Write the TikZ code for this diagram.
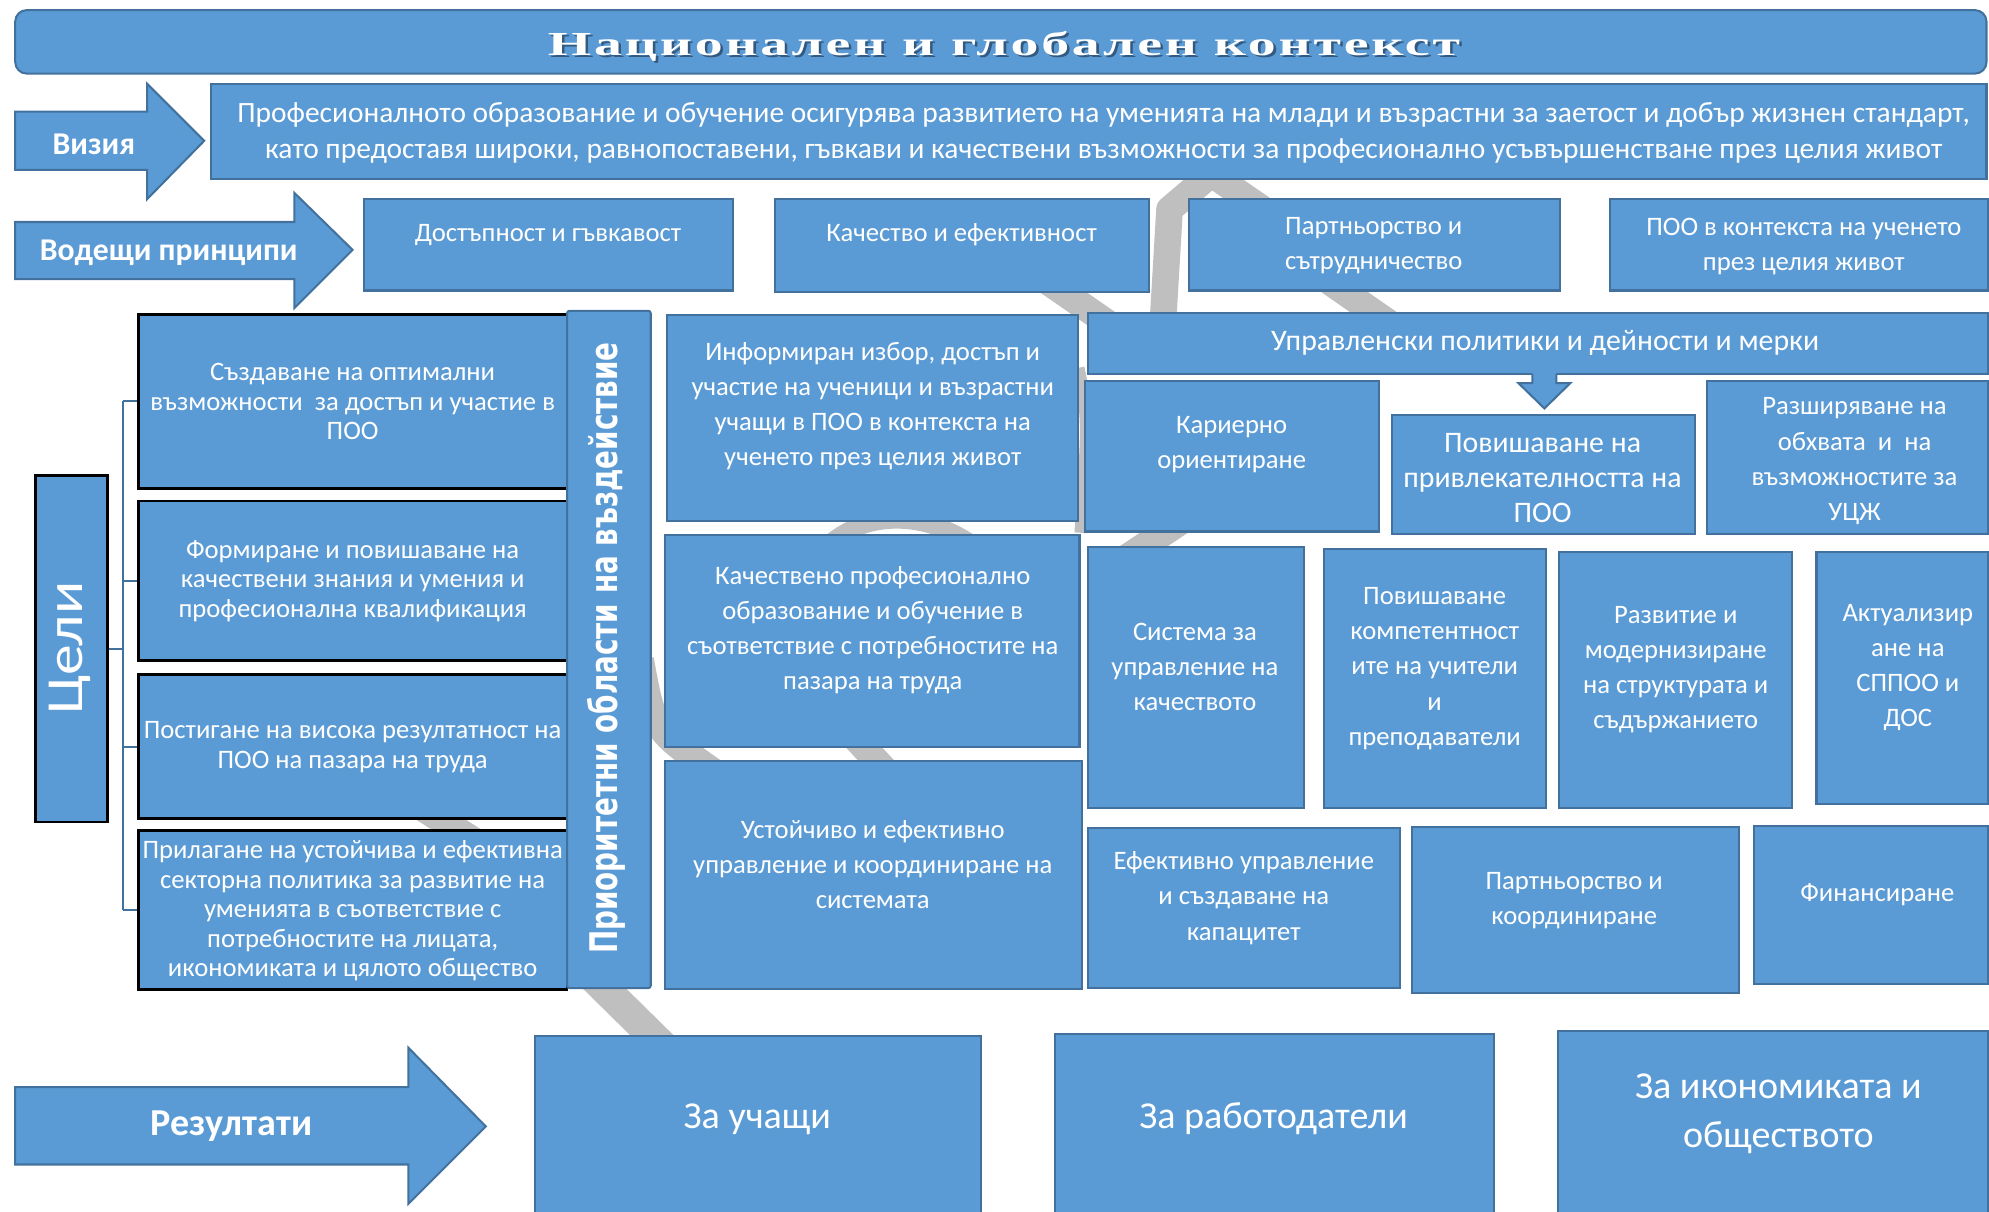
\documentclass[tikz,border=0pt]{standalone}
\usepackage{fontspec}
\usepackage{graphicx}
\setmainfont{Carlito}
\newfontfamily\titlefont{Liberation Serif}[LetterSpace=5]
\newfontfamily\vertfont{DejaVu Sans}
\usetikzlibrary{fit}
\definecolor{bfill}{HTML}{5B9BD5}
\definecolor{bline}{HTML}{41719C}
\definecolor{swirl}{HTML}{BFBFBF}
\definecolor{tshadow}{HTML}{34597F}
\tikzset{
  box/.style={draw=bline, fill=bfill, line width=1.6pt, inner sep=0pt},
  gbox/.style={draw=black, fill=bfill, line width=2.2pt, inner sep=0pt},
  txt/.style={text=white, align=center, inner sep=0pt},
  coil/.style={draw=swirl, line width=21pt, line cap=butt, line join=round},
  brk/.style={draw=bline, line width=1.6pt},
  arrowshape/.style={draw=bline, fill=bfill, line width=1.6pt, line join=miter},
  fA/.style={font=\fontsize{21}{27.5}\selectfont},
  fV/.style={font=\fontsize{23.2}{28.5}\selectfont},
  fG/.style={font=\fontsize{21}{23.3}\selectfont},
  fR/.style={font=\fontsize{21}{27.7}\selectfont},
  fRL/.style={font=\fontsize{23.5}{27.7}\selectfont},
  fB/.style={font=\fontsize{30}{38}\selectfont},
  fH/.style={font=\bfseries\fontsize{25}{25}\selectfont},
}
\begin{document}
\begin{tikzpicture}[x=1pt,y=-1pt]
\useasboundingbox (0,0) rectangle (1568,955);
\clip (0,0) rectangle (1568,955);
% ---------- grey coil (background decoration) ----------
\draw[coil] (917,250) -- (922,165) -- (955,137) -- (1000,168);
\draw[coil] (826,222) -- (878,258);
\draw[coil] (1048,222) -- (1100,258);
\draw[coil, line width=14pt] (640,445) .. controls (670,398) and (740,398) .. (785,445);
\draw[coil] (880,445) -- (940,405);
\draw[coil] (505,520) .. controls (515,575) .. (565,610);
\draw[coil] (668,575) -- (705,615);
\draw[coil] (330,635) -- (382,668);
\draw[coil, line width=24pt] (462,765) -- (528,830);
\draw[coil, line width=10pt] (850,290) .. controls (858,330) .. (852,420);
% ---------- title banner ----------
\node[box, rounded corners=9pt, fit={(12,8)(1566,58)}] (banner) {};
\node[anchor=base, inner sep=0pt, text=tshadow] (titleshadow) at (793.5,45.5)
  {\resizebox{719pt}{\height}{\titlefont\bfseries\fontsize{26.5}{26.5}\selectfont Национален и глобален контекст}};
\node[anchor=base, inner sep=0pt, text=white] (title) at (791.5,43.5)
  {\resizebox{719pt}{\height}{\titlefont\bfseries\fontsize{26.5}{26.5}\selectfont Национален и глобален контекст}};
% ---------- vision ----------
\draw[arrowshape] (12,88) -- (116,88) -- (116,66) -- (161,111) -- (116,157) -- (116,134) -- (12,134) -- cycle;
\node[txt, fH] (visia) at (74,114) {Визия};
\node[box, fit={(166,66)(1566,141)}] (vision) {};
\node[txt, fV] (visiont) at (870,105) {Професионалното образование и обучение осигурява развитието на уменията на млади и възрастни за заетост и добър жизнен стандарт,\\като предоставя широки, равнопоставени, гъвкави и качествени възможности за професионално усъвършенстване през целия живот};
% ---------- guiding principles ----------
\draw[arrowshape] (12,175) -- (232,175) -- (232,152) -- (278,197) -- (232,243) -- (232,220) -- (12,220) -- cycle;
\node[txt, fH] (vodeshti) at (133,199) {Водещи принципи};
\node[box, fit={(287,157)(578,229)}] (pr1) {};
\node[txt, fA] (pr1t) at (432,185) {Достъпност и гъвкавост};
\node[box, fit={(611,157)(906,230)}] (pr2) {};
\node[txt, fA] (pr2t) at (758,185) {Качество и ефективност};
\node[box, fit={(937,157)(1230,229)}] (pr3) {};
\node[txt, fA] (pr3t) at (1083,193.5) {Партньорство и\\сътрудничество};
\node[box, fit={(1269,157)(1567,229)}] (pr4) {};
\node[txt, fA] (pr4t) at (1422,194.5) {ПОО в контекста на ученето\\през целия живот};
% ---------- goals ----------
\node[gbox, fit={(28,375)(85,648)}] (celi) {};
\node[txt, rotate=90, anchor=base] (celit) at (65,511)
  {\resizebox{105pt}{\height}{\fontsize{41}{41}\selectfont Цели}};
\node[gbox, fit={(109,248)(447,385)}] (g1) {};
\node[txt, fG] (g1t) at (278,316.5) {Създаване на оптимални\\възможности\ \ за достъп и участие в\\ПОО};
\node[gbox, fit={(109,395)(447,521)}] (g2) {};
\node[txt, fG] (g2t) at (278,458) {Формиране и повишаване на\\качествени знания и умения и\\професионална квалификация};
\node[gbox, fit={(109,532)(447,645)}] (g3) {};
\node[txt, fG] (g3t) at (278,589) {Постигане на висока резултатност на\\ПОО на пазара на труда};
\node[gbox, fit={(109,655)(447,780)}] (g4) {};
\node[txt, fG] (g4t) at (278,718) {Прилагане на устойчива и ефективна\\секторна политика за развитие на\\уменията в съответствие с\\потребностите на лицата,\\икономиката и цялото общество};
\coordinate (bt) at (97,316.5);
\coordinate (bb) at (97,717.5);
\draw[brk] (bt) -- (bb);
\draw[brk] (celi.east) -- (celi.east -| bt);
\foreach \g in {g1,g2,g3,g4} \draw[brk] (\g.west -| bt) -- (\g.west);
% ---------- priority areas ----------
\node[box, rounded corners=2pt, fit={(447,245)(513,779)}] (prio) {};
\node[txt, rotate=90, anchor=base] (priot) at (487,511)
  {\resizebox{482pt}{\height}{\vertfont\bfseries\fontsize{30}{30}\selectfont Приоритетни области на въздействие}};
\node[box, fit={(526,248)(850,411)}] (a1) {};
\node[txt, fA] (a1t) at (688,320) {Информиран избор, достъп и\\участие на ученици и възрастни\\учащи в ПОО в контекста на\\ученето през целия живот};
\node[box, fit={(524,422)(851,589)}] (a2) {};
\node[txt, fA] (a2t) at (688,497) {Качествено професионално\\образование и обучение в\\съответствие с потребностите на\\пазара на труда};
\node[box, fit={(524,600)(853,780)}] (a3) {};
\node[txt, fA] (a3t) at (688,681.5) {Устойчиво и ефективно\\управление и координиране на\\системата};
% ---------- policies ----------
\node[box, fit={(858,247)(1567,295)}] (bar) {};
\node[txt, fRL] (bart) at (1218,270) {Управленски политики и дейности и мерки};
\fill[bfill] (1208,293) -- (1208,302) -- (1197,302) -- (1217.5,322) -- (1238,302) -- (1227,302) -- (1227,293) -- cycle;
\draw[bline, line width=1.6pt, line join=miter] (1208,295) -- (1208,302) -- (1197,302) -- (1217.5,322) -- (1238,302) -- (1227,302) -- (1227,295);
\node[box, fit={(855,300)(1087,419)}] (r1a) {};
\node[txt, fR] (r1at) at (971,350.5) {Кариерно\\ориентиране};
\node[box, fit={(1097,327)(1336,421)}] (r1b) {};
\node[txt, fRL] (r1bt) at (1216,377) {Повишаване на\\привлекателността на\\ПОО};
\node[box, fit={(1346,300)(1567,421)}] (r1c) {};
\node[txt, fR] (r1ct) at (1462,363.5) {Разширяване на\\обхвата\ \ и\ \ на\\възможностите за\\УЦЖ};
\node[box, fit={(858,431)(1028,637)}] (r2a) {};
\node[txt, fR] (r2at) at (942,525.5) {Система за\\управление на\\качеството};
\node[box, fit={(1044,433)(1219,637)}] (r2b) {};
\node[txt, fR] (r2bt) at (1131,527) {Повишаване\\компетентност\\ите на учители\\и\\преподаватели};
\node[box, fit={(1229,435)(1413,637)}] (r2c) {};
\node[txt, fR] (r2ct) at (1321,528) {Развитие и\\модернизиране\\на структурата и\\съдържанието};
\node[box, fit={(1432,435)(1567,634)}] (r2d) {};
\node[txt, fR] (r2dt) at (1504,526) {Актуализир\\ане на\\СППОО и\\ДОС};
\node[box, fit={(858,653)(1104,779)}] (r3a) {};
\node[txt, fR] (r3at) at (980.5,708) {Ефективно управление\\и създаване на\\капацитет};
\node[box, fit={(1113,652)(1371,783)}] (r3b) {};
\node[txt, fR] (r3bt) at (1241,710) {Партньорство и\\координиране};
\node[box, fit={(1383,651)(1567,776)}] (r3c) {};
\node[txt, fR] (r3ct) at (1480,705.5) {Финансиране};
% ---------- results ----------
\draw[arrowshape] (12,857) -- (322,857) -- (322,826) -- (383,888) -- (322,949) -- (322,918) -- (12,918) -- cycle;
\node[txt, font=\bfseries\fontsize{30}{30}\selectfont] (rez) at (182.5,887.5) {Резултати};
\node[box, fit={(422,817)(773,990)}] (res1) {};
\node[txt, fB] (res1t) at (597,882) {За учащи};
\node[box, fit={(832,815)(1178,990)}] (res2) {};
\node[txt, fB] (res2t) at (1004,882) {За работодатели};
\node[box, fit={(1228,813)(1567,990)}] (res3) {};
\node[txt, fB] (res3t) at (1402,878) {За икономиката и\\обществото};
\end{tikzpicture}
\end{document}
